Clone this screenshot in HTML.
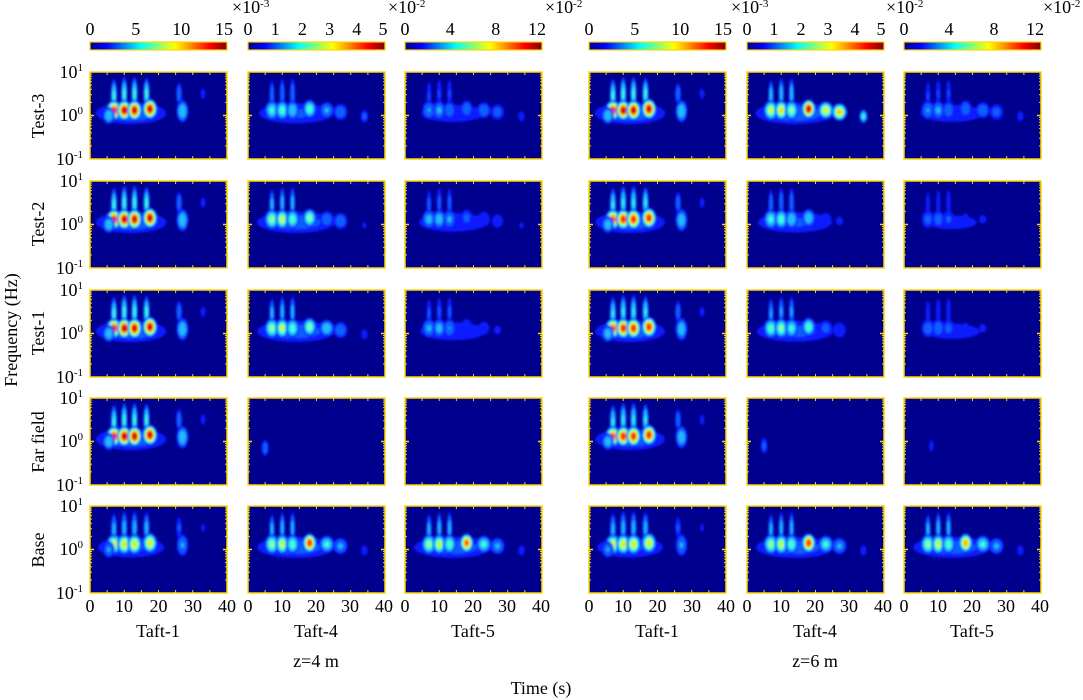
<!DOCTYPE html>
<html><head><meta charset="utf-8"><style>
html,body{margin:0;padding:0;background:#fff;}
svg{display:block;font-family:"Liberation Serif",serif;}
</style></head><body>
<svg id="s" width="1083" height="700" xmlns="http://www.w3.org/2000/svg">
<defs>
<linearGradient id="jet" x1="0" x2="1" y1="0" y2="0">
<stop offset="0" stop-color="#00008f"/><stop offset="0.12" stop-color="#0000ff"/><stop offset="0.37" stop-color="#00ffff"/><stop offset="0.62" stop-color="#ffff00"/><stop offset="0.87" stop-color="#ff0000"/><stop offset="1" stop-color="#800000"/>
</linearGradient>
<filter id="bl"><feGaussianBlur stdDeviation="1"/></filter>
</defs>
<g font-size="18" fill="#000">
<text x="90" y="35" text-anchor="middle">0</text><text x="135.7" y="35" text-anchor="middle">5</text><text x="181.3" y="35" text-anchor="middle">10</text><text x="224" y="35" text-anchor="middle">15</text>
<text x="232" y="13">×10<tspan font-size="11" dy="-6">-3</tspan></text>
<text x="248" y="35" text-anchor="middle">0</text><text x="275.2" y="35" text-anchor="middle">1</text><text x="302.4" y="35" text-anchor="middle">2</text><text x="329.6" y="35" text-anchor="middle">3</text><text x="356.8" y="35" text-anchor="middle">4</text><text x="383" y="35" text-anchor="middle">5</text>
<text x="388" y="13">×10<tspan font-size="11" dy="-6">-2</tspan></text>
<text x="405" y="35" text-anchor="middle">0</text><text x="450.3" y="35" text-anchor="middle">4</text><text x="495.7" y="35" text-anchor="middle">8</text><text x="537" y="35" text-anchor="middle">12</text>
<text x="545" y="13">×10<tspan font-size="11" dy="-6">-2</tspan></text>
<text x="589" y="35" text-anchor="middle">0</text><text x="634.7" y="35" text-anchor="middle">5</text><text x="680.3" y="35" text-anchor="middle">10</text><text x="723" y="35" text-anchor="middle">15</text>
<text x="731" y="13">×10<tspan font-size="11" dy="-6">-3</tspan></text>
<text x="747" y="35" text-anchor="middle">0</text><text x="774" y="35" text-anchor="middle">1</text><text x="801" y="35" text-anchor="middle">2</text><text x="828" y="35" text-anchor="middle">3</text><text x="855" y="35" text-anchor="middle">4</text><text x="881" y="35" text-anchor="middle">5</text>
<text x="886" y="13">×10<tspan font-size="11" dy="-6">-2</tspan></text>
<text x="904" y="35" text-anchor="middle">0</text><text x="949" y="35" text-anchor="middle">4</text><text x="994" y="35" text-anchor="middle">8</text><text x="1035" y="35" text-anchor="middle">12</text>
<text x="1043" y="13">×10<tspan font-size="11" dy="-6">-2</tspan></text>
<g text-anchor="middle">
<text x="90" y="612">0</text><text x="124" y="612">10</text><text x="158.5" y="612">20</text><text x="193" y="612">30</text><text x="227" y="612">40</text>
<text x="248" y="612">0</text><text x="282" y="612">10</text><text x="316" y="612">20</text><text x="350" y="612">30</text><text x="384" y="612">40</text>
<text x="405" y="612">0</text><text x="439" y="612">10</text><text x="473" y="612">20</text><text x="507" y="612">30</text><text x="541" y="612">40</text>
<text x="589" y="612">0</text><text x="623" y="612">10</text><text x="657.5" y="612">20</text><text x="692" y="612">30</text><text x="726" y="612">40</text>
<text x="747" y="612">0</text><text x="781" y="612">10</text><text x="815" y="612">20</text><text x="849" y="612">30</text><text x="883" y="612">40</text>
<text x="904" y="612">0</text><text x="938" y="612">10</text><text x="972" y="612">20</text><text x="1006" y="612">30</text><text x="1040" y="612">40</text>
<text x="158" y="637">Taft-1</text><text x="316" y="637">Taft-4</text><text x="473" y="637">Taft-5</text>
<text x="657" y="637">Taft-1</text><text x="815" y="637">Taft-4</text><text x="972" y="637">Taft-5</text>
<text x="316" y="667">z=4 m</text><text x="815" y="667">z=6 m</text>
<text x="541" y="694">Time (s)</text>
</g>
<text transform="translate(17,330) rotate(-90)" text-anchor="middle">Frequency (Hz)</text>
<g text-anchor="middle">
<text transform="translate(44,116) rotate(-90)">Test-3</text>
<text transform="translate(44,224) rotate(-90)">Test-2</text>
<text transform="translate(44,333) rotate(-90)">Test-1</text>
<text transform="translate(44,442) rotate(-90)">Far field</text>
<text transform="translate(44,550) rotate(-90)">Base</text>
</g>
<g text-anchor="end" id="ylab"></g>
</g>
<g id="panels"></g>
</svg>
<script>
var NS="http://www.w3.org/2000/svg";
function el(t,a,p){var e=document.createElementNS(NS,t);for(var k in a)e.setAttribute(k,a[k]);p.appendChild(e);return e;}
var cols=[90,248,405,589,747,904],rows=[72,181,290,398,506],W=137,H=87;
var P=document.getElementById('panels'),YL=document.getElementById('ylab');
cols.forEach(function(x){el('rect',{x:x,y:42,width:W,height:8,fill:'url(#jet)',stroke:'#ffd700','stroke-width':1.2},P);});
rows.forEach(function(y){
 [[y+6,'1'],[y+49,'0'],[y+93,'-1']].forEach(function(a){
  var t=el('text',{x:83,y:a[0]},YL);t.textContent='10';var s=el('tspan',{'font-size':11,dy:-7},t);s.textContent=a[1];
 });
});
var lv=[[0.08,'#0a1aff'],[0.2,'#1060ff'],[0.32,'#20b8ff'],[0.45,'#40ffd8'],[0.58,'#c8ff40'],[0.7,'#ffc000'],[0.8,'#ff3000'],[0.9,'#b00000']];
function blob(g,x0,y0,t,lf,rx,ry,I){
 var cx=x0+t*W/40, cy=y0+H/2-lf*H/2;
 lv.forEach(function(l){ if(I>l[0]){var f=Math.sqrt(1-l[0]/I);
  el('ellipse',{cx:cx,cy:cy,rx:rx*1.5*W/40*f,ry:ry*1.45*H/2*f,fill:l[1]},g);} });
}
function taft1(s){return [
 [12,0.05,8,0.2,0.3*s],[27,0.1,1.3,0.2,0.45*s],[26,0.5,0.7,0.2,0.3*s],[33,0.5,0.7,0.12,0.15*s],
 [7,0.45,0.7,0.3,0.5*s],[10,0.5,0.7,0.3,0.5*s],[13,0.5,0.7,0.3,0.5*s],[16.5,0.5,0.7,0.28,0.5*s],
 [7,0.12,1.6,0.17,0.9*s],[10,0.12,1.5,0.17,0.95*s],[13,0.12,1.5,0.17,0.95*s],[17.5,0.15,1.5,0.17,0.95*s],[5.5,0,1.3,0.15,0.45*s]];}
function taft4(a){return [
 [14,0.05,9,0.2,0.25*a[0]],[7,0.45,0.6,0.28,0.35*a[0]],[10,0.5,0.6,0.28,0.35*a[0]],[13,0.5,0.6,0.28,0.35*a[0]],
 [7,0.12,1.5,0.17,0.55*a[0]],[10,0.12,1.4,0.17,0.6*a[0]],[13,0.12,1.4,0.17,0.5*a[0]],[18,0.15,1.4,0.16,a[1]],
 [23,0.12,1.6,0.15,a[2]],[27,0.08,1.6,0.15,a[3]],[34,-0.02,0.9,0.12,a[4]]];}
var data=[
 [taft1(1),taft4([0.9,0.55,0.35,0.3,0.25]),taft4([0.6,0.3,0.3,0.25,0.15]),taft1(1),taft4([1.2,0.95,0.7,0.75,0.5]),taft4([0.6,0.3,0.3,0.25,0.15])],
 [taft1(1),taft4([1.1,0.6,0.3,0.3,0.1]),taft4([0.7,0.25,0.2,0.15,0.1]),taft1(0.95),taft4([0.9,0.45,0.15,0.1,0]),taft4([0.45,0.1,0.1,0,0])],
 [taft1(1),taft4([1.1,0.6,0.45,0.3,0.15]),taft4([0.65,0.2,0.15,0.1,0]),taft1(0.95),taft4([1,0.55,0.25,0.2,0]),taft4([0.5,0.1,0.1,0,0])],
 [taft1(1),[[5,-0.15,0.8,0.15,0.3]],[[12,0.3,8,0.3,0.06]],taft1(0.95),[[5,-0.1,0.8,0.15,0.25]],[[8,-0.1,0.8,0.15,0.12]]],
 [taft1(0.75),taft4([1.1,0.9,0.5,0.35,0.15]),taft4([1.1,0.85,0.5,0.35,0.15]),taft1(0.75),taft4([1.1,0.9,0.5,0.35,0.15]),taft4([1.1,0.8,0.5,0.35,0.15])]
];
rows.forEach(function(y,r){cols.forEach(function(x,c){
 el('rect',{x:x,y:y,width:W,height:H,fill:'#00008f'},P);
 var g=el('g',{filter:'url(#bl)'},P);
 var cp=el('clipPath',{id:'c'+r+c},P);el('rect',{x:x,y:y,width:W,height:H},cp);g.setAttribute('clip-path','url(#c'+r+c+')');
 data[r][c].forEach(function(b){blob(g,x,y,b[0],b[1],b[2],b[3],b[4]);});
 el('rect',{x:x,y:y,width:W,height:H,fill:'none',stroke:'#ffd700','stroke-width':1.5},P);
 for(var i=1;i<8;i++){var tx=x+i*W/8;el('line',{x1:tx,x2:tx,y1:y+H,y2:y+H-3,stroke:'#ffd700'},P);el('line',{x1:tx,x2:tx,y1:y,y2:y+3,stroke:'#ffd700'},P);}
 [0,1].forEach(function(d){for(var k=2;k<10;k++){var ty=y+H/2*(d+1)-Math.log10(k)*H/2;el('line',{x1:x,x2:x+2,y1:ty,y2:ty,stroke:'#ffd700'},P);el('line',{x1:x+W,x2:x+W-2,y1:ty,y2:ty,stroke:'#ffd700'},P);}});
 el('line',{x1:x,x2:x+4,y1:y+H/2,y2:y+H/2,stroke:'#ffd700','stroke-width':1.5},P);
 el('line',{x1:x+W,x2:x+W-4,y1:y+H/2,y2:y+H/2,stroke:'#ffd700','stroke-width':1.5},P);
});});
</script>
</body></html>
